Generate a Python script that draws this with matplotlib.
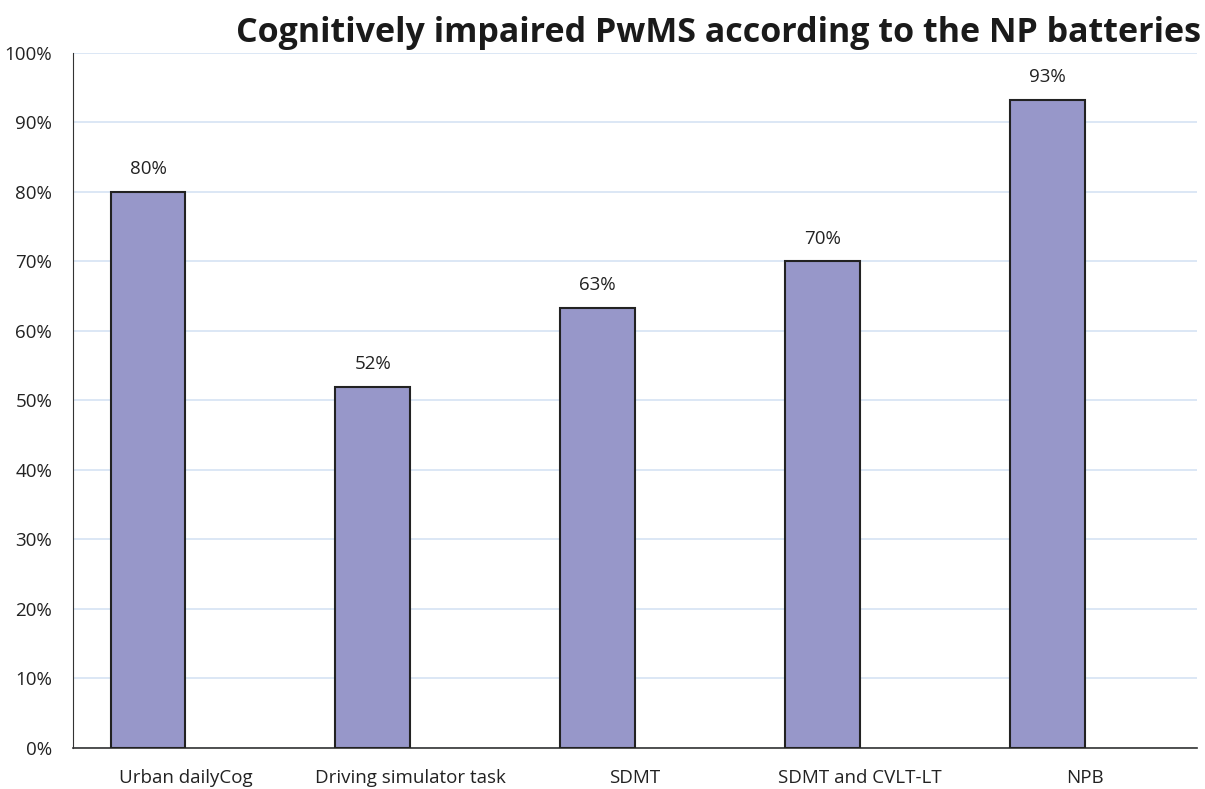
import matplotlib
matplotlib.use("Agg")
import matplotlib.pyplot as plt
from matplotlib.ticker import PercentFormatter

categories = ['Urban dailyCog', 'Driving simulator task', 'SDMT',
              'SDMT and CVLT-LT', 'NPB']
values = [0.80, 0.52, 0.633, 0.70, 0.933]
yticks = [0, 0.1, 0.2, 0.3, 0.4, 0.5, 0.6, 0.7, 0.8, 0.9, 1.0]

plt.rcParams['font.family'] = ['Open Sans', 'DejaVu Sans']

fig = plt.figure(figsize=(12.05, 7.89), dpi=100)
ax = fig.add_axes([0.0606, 0.052, 0.9328, 0.8809])

# bars sit in the left part of each slot (like a cluster with one series)
bw = 0.333
x = [i - bw / 2 for i in range(len(categories))]
bars = ax.bar(x, values, width=bw, color='#9797C9',
              edgecolor='#222222', linewidth=1.5, zorder=3)
for b, v in zip(bars, values):
    ax.text(b.get_x() + b.get_width() / 2, v + 0.02,
            '{:.0f}%'.format(v * 100), ha='center', va='bottom',
            fontsize=13.5, color='#222222')

ax.set_xlim(-0.5, len(categories) - 0.5)
ax.set_ylim(0, 1.0)
ax.set_yticks(yticks)
ax.yaxis.set_major_formatter(PercentFormatter(1.0, decimals=0))
ax.set_xticks(list(range(len(categories))))
ax.set_xticklabels(categories)
ax.tick_params(axis='both', length=0, labelsize=13.5, colors='#222222')
ax.tick_params(axis='x', pad=15)
ax.tick_params(axis='y', pad=15)
ax.grid(axis='y', color='#D6E3F3', linewidth=1.2, zorder=0)
for s in ['top', 'right']:
    ax.spines[s].set_visible(False)
ax.spines['left'].set_color('#333333')
ax.spines['bottom'].set_color('#333333')
ax.spines['bottom'].set_linewidth(1.2)

fig.text(0.997, 0.958, 'Cognitively impaired PwMS according to the NP batteries',
         ha='right', va='center', fontsize=24.5, fontweight='bold',
         color='#1a1a1a')

fig.savefig('out.png', dpi=100)
